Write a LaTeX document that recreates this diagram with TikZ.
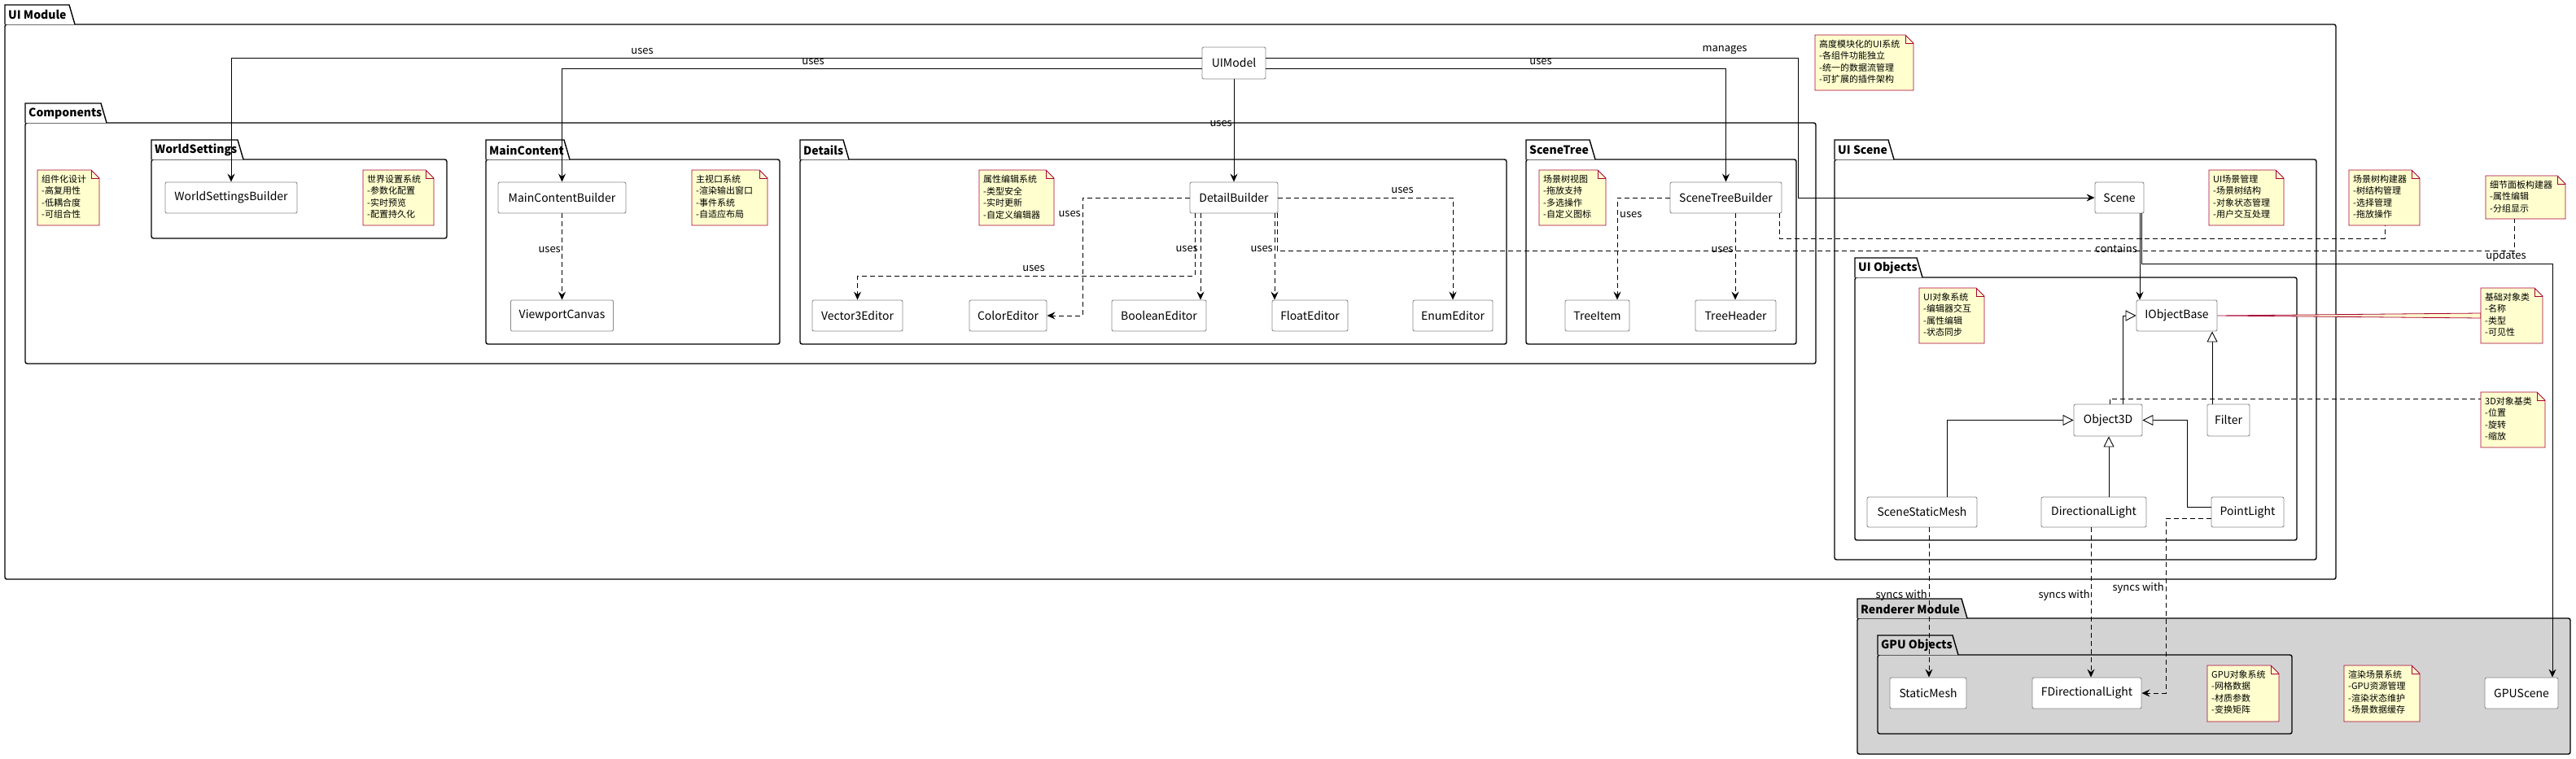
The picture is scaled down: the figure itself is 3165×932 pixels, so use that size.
\documentclass[tikz,border=0pt]{standalone}
\usepackage{fontspec}
\setmainfont{Noto Sans CJK SC}
\usetikzlibrary{arrows.meta,calc}
\definecolor{notefill}{HTML}{FEFECE}
\definecolor{noteborder}{HTML}{A80036}
\definecolor{clsborder}{HTML}{8A8A8A}
\definecolor{rendfill}{HTML}{D3D3D3}
\tikzset{
 pkgline/.style={draw=black, line width=1.4pt},
 pkgtitle/.style={font=\bfseries\fontsize{14}{16}\selectfont, inner sep=0pt},
 cls/.style={draw=clsborder, fill=white, rounded corners=2pt, line width=0.9pt, minimum height=38pt, inner sep=0pt, font=\fontsize{14}{16}\selectfont},
 lbl/.style={font=\fontsize{13}{15}\selectfont, inner sep=0pt},
 conn/.style={line width=0.9pt, -{Stealth[length=10pt,width=9pt,inset=3.5pt]}},
 dep/.style={conn, dash pattern=on 6pt off 4pt},
 gen/.style={line width=0.9pt, -{Triangle[open,length=13pt,width=13pt,fill=white]}},
 notelink/.style={line width=0.9pt, dash pattern=on 6pt off 4pt},
 notebody/.style={draw=noteborder, fill=notefill, line width=0.8pt, line join=miter},
 notetext/.style={font=\fontsize{11}{14.5}\selectfont, align=left, inner sep=0pt},
}
% [fill] name x0 ytop xtabtop x1 ybottom title
\newcommand{\umlpkg}[8][white]{%
  \draw[pkgline, fill=#1, rounded corners=2.5pt] (#3,#4+24) rectangle (#6,#7);
  \draw[pkgline, fill=#1] (#3,#4+24) -- (#3,#4) -- (#5,#4) -- (#5+7,#4+24);
  \node[pkgtitle, anchor=west] (#2) at (#3+4,#4+12.5) {#8};
}
% name x0 y0 x1 y1 text
\newcommand{\umlnote}[6]{%
  \draw[notebody] (#2,#3) -- (#4-10,#3) -- (#4,#3+10) -- (#4,#5) -- (#2,#5) -- cycle;
  \draw[notebody, fill=none] (#4-10,#3) -- (#4-10,#3+10) -- (#4,#3+10);
  \node[inner sep=0pt, minimum width={(#4-#2)*1pt}, minimum height={(#5-#3)*1pt}, anchor=north west] (#1) at (#2,#3) {};
  \node[notetext, anchor=north west] (#1-t) at (#2+5,#3+6) {#6};
}
\begin{document}
\begin{tikzpicture}[x=1pt,y=-1pt]
\useasboundingbox (0,0) rectangle (3165,932);
\fill[white] (0,0) rectangle (3165,932);

% packages
\umlpkg{pUI}{6}{6}{85}{2870}{712}{UI Module}
\umlpkg{pComp}{31}{127}{124}{2231}{447}{Components}
\umlpkg{pWS}{186}{172}{292}{549}{293}{WorldSettings}
\umlpkg{pMC}{597}{172}{693}{958}{423}{MainContent}
\umlpkg{pDet}{983}{172}{1036}{1851}{423}{Details}
\umlpkg{pST}{1875}{172}{1953}{2207}{423}{SceneTree}
\umlpkg{pScene}{2254}{172}{2320}{2846}{688}{UI Scene}
\umlpkg{pObj}{2279}{317}{2355}{2822}{664}{UI Objects}
\umlpkg[rendfill]{pRend}{2282}{736}{2410}{3158}{927}{Renderer Module}
\umlpkg[rendfill]{pGPU}{2307}{781}{2399}{2816}{902}{GPU Objects}

% notes
\umlnote{n1}{46}{209}{122}{277}{组件化设计\\-高复用性\\-低耦合度\\-可组合性}
\umlnote{n2}{446}{209}{533}{277}{世界设置系统\\-参数化配置\\-实时预览\\-配置持久化}
\umlnote{n3}{850}{209}{943}{277}{主视口系统\\-渲染输出窗口\\-事件系统\\-自适应布局}
\umlnote{n4}{1203}{209}{1295}{277}{属性编辑系统\\-类型安全\\-实时更新\\-自定义编辑器}
\umlnote{n5}{1891}{209}{1973}{277}{场景树视图\\-拖放支持\\-多选操作\\-自定义图标}
\umlnote{n6}{2230}{43}{2351}{111}{高度模块化的UI系统\\-各组件功能独立\\-统一的数据流管理\\-可扩展的插件架构}
\umlnote{n7}{2714}{209}{2806}{277}{UI场景管理\\-场景树结构\\-对象状态管理\\-用户交互处理}
\umlnote{n8}{2886}{209}{2973}{277}{场景树构建器\\-树结构管理\\-选择管理\\-拖放操作}
\umlnote{n9}{3054}{216}{3152}{269}{细节面板构建器\\-属性编辑\\-分组显示}
\umlnote{n10}{2358}{354}{2438}{422}{UI对象系统\\-编辑器交互\\-属性编辑\\-状态同步}

% classes
\node[cls, minimum width=78pt, minimum height=39pt] (UIModel) at (1516,77.5) {UIModel};
\node[cls, minimum width=162pt] (WSB) at (284,243) {WorldSettingsBuilder};
\node[cls, minimum width=157pt] (MCB) at (690.5,243) {MainContentBuilder};
\node[cls, minimum width=126pt] (VC) at (690.5,388) {ViewportCanvas};
\node[cls, minimum width=108pt] (DB) at (1516,243) {DetailBuilder};
\node[cls, minimum width=111pt] (V3E) at (1053.5,388) {Vector3Editor};
\node[cls, minimum width=95pt] (CE) at (1238.5,388) {ColorEditor};
\node[cls, minimum width=116pt] (BE) at (1424,388) {BooleanEditor};
\node[cls, minimum width=93pt] (FE) at (1609.5,388) {FloatEditor};
\node[cls, minimum width=98pt] (EE) at (1785,388) {EnumEditor};
\node[cls, minimum width=137pt] (STB) at (2120.5,243) {SceneTreeBuilder};
\node[cls, minimum width=79pt] (TI) at (1962.5,388) {TreeItem};
\node[cls, minimum width=99pt] (TH) at (2132.5,388) {TreeHeader};
\node[cls, minimum width=60pt] (Scene) at (2604,243) {Scene};
\node[cls, minimum width=99pt] (IOB) at (2674.5,388) {IObjectBase};
\node[cls, minimum width=84pt, minimum height=39pt] (O3D) at (2590,516.5) {Object3D};
\node[cls, minimum width=52pt, minimum height=39pt] (Filter) at (2738,516.5) {Filter};
\node[cls, minimum width=135pt, minimum height=37pt] (SSM) at (2361.5,629.5) {SceneStaticMesh};
\node[cls, minimum width=129pt, minimum height=37pt] (DL) at (2572.5,629.5) {DirectionalLight};
\node[cls, minimum width=89pt, minimum height=37pt] (PL) at (2761.5,629.5) {PointLight};
\node[cls, minimum width=94pt] (SM) at (2369,852) {StaticMesh};
\node[cls, minimum width=134pt] (FDL) at (2564,852) {FDirectionalLight};
\node[cls, minimum width=90pt] (GPUS) at (3098,852) {GPUScene};

% note attached to IObjectBase
\draw[notebody] (IOB.east) -- (3048,385) -- (3048,391) -- cycle;
\umlnote{n11}{3048}{354}{3124}{422}{基础对象类\\-名称\\-类型\\-可见性}
\umlnote{n12}{3048}{482}{3127}{550}{3D对象基类\\-位置\\-旋转\\-缩放}
\umlnote{n13}{2712}{818}{2800}{887}{GPU对象系统\\-网格数据\\-材质参数\\-变换矩阵}
\umlnote{n14}{2880}{818}{2973}{887}{渲染场景系统\\-GPU资源管理\\-渲染状态维护\\-场景数据缓存}

% solid associations
\draw[conn] (UIModel.west |- 0,71) -| (WSB.north);
\draw[conn] (UIModel.west |- 0,84) -| (MCB.north);
\draw[conn] (UIModel.south) -- (DB.north);
\draw[conn] (UIModel.east |- 0,84) -| (STB.north);
\draw[conn] (UIModel.east |- 0,71) -- (2209,71) |- (Scene.west);
\draw[conn] (Scene.south -| 2629,0) -- (IOB.north -| 2629,0);
\draw[conn] (Scene.south -| 2631,0) -- (2631,324) -| (GPUS.north -| 3136,0);

% generalizations
\draw[gen] (O3D.north -| 2608,0) |- (IOB.west);
\draw[gen] (Filter.north -| 2718,0) -- (IOB.south -| 2718,0);
\draw[gen] (SSM.north -| 2392,0) |- (O3D.west);
\draw[gen] (DL.north -| 2591,0) -- (O3D.south -| 2591,0);
\draw[gen] (PL.west |- 0,623) -- (2687,623) |- (O3D.east);

% dependencies
\draw[dep] (MCB.south) -- (VC.north);
\draw[dep] (DB.west) -- (1330,243) |- (CE.east);
\draw[dep] (DB.south -| 1468,0) -- (1468,339) -| (V3E.north);
\draw[dep] (DB.south -| 1475,0) -- (BE.north -| 1475,0);
\draw[dep] (DB.south -| 1566,0) -- (FE.north -| 1566,0);
\draw[dep] (DB.east) -| (EE.north);
\draw[dep] (STB.west) -| (TI.north -| 1987,0);
\draw[dep] (STB.south -| 2132,0) -- (TH.north -| 2132,0);
\draw[dep] (SSM.south -| 2370,0) -- (SM.north -| 2370,0);
\draw[dep] (DL.south -| 2569,0) -- (FDL.north -| 2569,0);
\draw[dep] (PL.west |- 0,637) -- (2661,637) |- (FDL.east);

% note links
\draw[notelink] (STB.south -| 2186,0) -- (2186,293) -| (n8.south -| 2930,0);
\draw[notelink] (DB.south -| 1569,0) -- (1569,308) -| (n9.south -| 3089,0);
\draw[notelink] (O3D.north -| 2592,0) |- (n12.west |- 0,490);

% labels
\node[lbl] (lb1) at (789,63) {uses};
\node[lbl] (lb2) at (999,76) {uses};
\node[lbl, anchor=east] (lb3) at (1514,152) {uses};
\node[lbl] (lb4) at (1893,76) {uses};
\node[lbl] (lb5) at (2119,62) {manages};
\node[lbl, anchor=east] (lb6) at (689,307) {uses};
\node[lbl, anchor=east] (lb7) at (1328,263) {uses};
\node[lbl] (lb8) at (1270,330) {uses};
\node[lbl, anchor=east] (lb9) at (1472,306) {uses};
\node[lbl, anchor=east] (lb10) at (1564,306) {uses};
\node[lbl] (lb11) at (1723,234) {uses};
\node[lbl, anchor=west] (lb12) at (1990,264) {uses};
\node[lbl, anchor=east] (lb13) at (2130,307) {uses};
\node[lbl, anchor=east] (lb14) at (2626,306) {contains};
\node[lbl] (lb15) at (3079,315) {updates};
\node[lbl, anchor=east] (lb16) at (2368,732) {syncs with};
\node[lbl, anchor=east] (lb17) at (2568,732) {syncs with};
\node[lbl, anchor=east] (lb18) at (2659,723) {syncs with};
\end{tikzpicture}
\end{document}
